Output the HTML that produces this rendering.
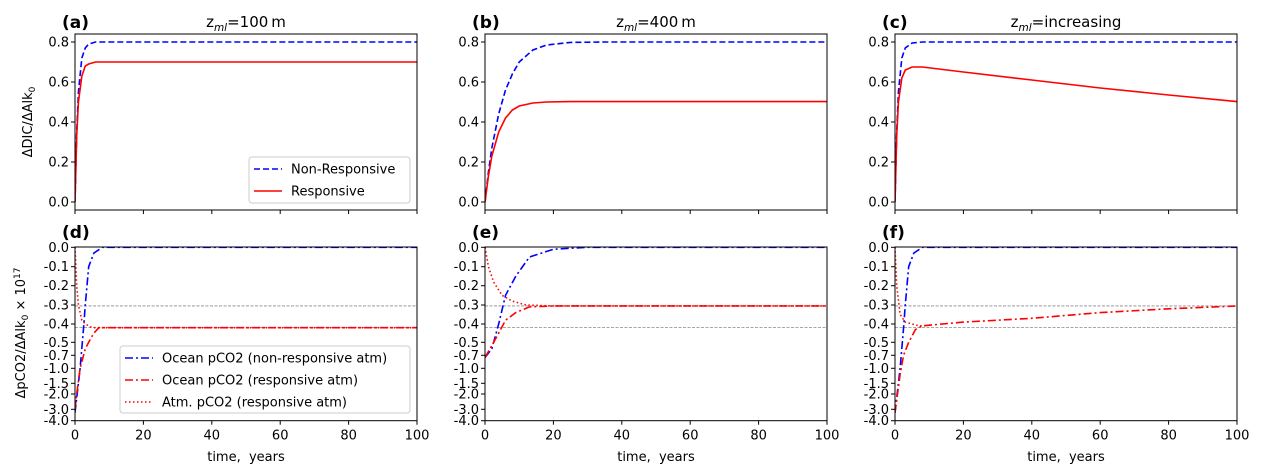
<!DOCTYPE html>
<html><head><meta charset="utf-8"><style>
body{margin:0;background:#fff;}
svg{display:block;font-family:"DejaVu Sans","Liberation Sans",sans-serif;}
text{white-space:pre;}
</style></head><body>
<svg id="fig" width="1262" height="476" viewBox="0 0 1262 476"></svg>
<script>
// ---- data ----
const xTicks = [0, 20, 40, 60, 80, 100];
const topYTicks = [0.0, 0.2, 0.4, 0.6, 0.8];
const botYTicks = [0.0, -0.1, -0.2, -0.3, -0.4, -0.5, -0.7, -1.0, -1.5, -2.0, -3.0, -4.0];
const botYTickLabels = ["0.0","-0.1","-0.2","-0.3","-0.4","-0.5","-0.7","-1.0","-1.5","-2.0","-3.0","-4.0"];
const refLines = [-0.305, -0.42];
const panelTitles = ["100\u2009m", "400\u2009m", "increasing"];

const tA = [0, 0.5, 1, 2, 3, 4, 6, 100];
const aNonResp = [0, 0.35, 0.55, 0.72, 0.77, 0.79, 0.8, 0.8];
const aResp = [0, 0.33, 0.5, 0.63, 0.68, 0.69, 0.7, 0.7];
const tB = [0, 1, 2, 4, 6, 8, 10, 14, 18, 25, 35, 100];
const bNonResp = [0, 0.15, 0.27, 0.44, 0.56, 0.64, 0.7, 0.76, 0.785, 0.798, 0.8, 0.8];
const bResp = [0, 0.13, 0.23, 0.35, 0.42, 0.46, 0.48, 0.495, 0.5, 0.502, 0.502, 0.502];
const tC = [0, 0.5, 1, 2, 3, 5, 8, 20, 40, 60, 80, 100];
const cNonResp = [0, 0.35, 0.55, 0.72, 0.77, 0.795, 0.8, 0.8, 0.8, 0.8, 0.8, 0.8];
const cResp = [0, 0.33, 0.5, 0.62, 0.66, 0.675, 0.675, 0.65, 0.61, 0.57, 0.535, 0.502];

const tD1 = [0, 1.5, 2.6, 3, 4, 5.5, 8, 100];
const dOceanNR = [-3.3, -1.0, -0.4, -0.3, -0.1, -0.03, 0, 0];
const tD2 = [0, 0.5, 1.5, 3, 4, 5.5, 7, 100];
const dOceanR = [-3.0, -2.0, -1.0, -0.6, -0.5, -0.45, -0.42, -0.42];
const tD3 = [0, 0.5, 1, 2, 3, 5, 100];
const dAtm = [0, -0.2, -0.3, -0.38, -0.4, -0.42, -0.42];

const tE1 = [0, 2, 4, 6, 9, 13, 20, 30, 100];
const eOceanNR = [-0.75, -0.6, -0.4, -0.25, -0.15, -0.05, -0.01, 0, 0];
const tE2 = [0, 2, 4, 6, 9, 13, 20, 100];
const eOceanR = [-0.75, -0.55, -0.45, -0.38, -0.34, -0.31, -0.305, -0.305];
const tE3 = [0, 1, 2.5, 5, 8, 12, 20, 100];
const eAtm = [0, -0.1, -0.18, -0.25, -0.28, -0.3, -0.305, -0.305];

const tF1 = [0, 1.5, 2.6, 3, 4, 5.5, 8, 100];
const fOceanNR = [-3.3, -1.0, -0.4, -0.3, -0.1, -0.03, 0, 0];
const tF2 = [0, 1.5, 2.5, 4, 6, 8, 20, 40, 60, 80, 100];
const fOceanR = [-3.3, -1.2, -0.7, -0.5, -0.43, -0.41, -0.39, -0.37, -0.34, -0.32, -0.305];
const tF3 = [0, 0.5, 1.5, 3, 5, 7, 8];
const fAtm = [0, -0.2, -0.35, -0.39, -0.4, -0.41, -0.41];

// ---- layout ----
const NS = "http://www.w3.org/2000/svg";
const svg = document.getElementById("fig");
const panelX = [75, 485, 895];
const PW = 342;
const TOP = {y0: 34, y1: 210};
const BOT = {y0: 247, y1: 420.7};
const botTickPx = [247.3, 266.7, 285.7, 305, 324, 342.3, 355.3, 368.3, 383.3, 394, 409.3, 420.7];

function mk(tag, attrs, parent) {
  const e = document.createElementNS(NS, tag);
  for (const k in attrs) e.setAttribute(k, attrs[k]);
  (parent || svg).appendChild(e);
  return e;
}
function xs(px, v) { return px + v / 100 * PW; }
function ysTop(v) { return 202 - v * 200; }
function ysBot(v) {
  if (v >= 0) return botTickPx[0] - v * 192;
  for (let i = 0; i < botYTicks.length - 1; i++) {
    const a = botYTicks[i], b = botYTicks[i + 1];
    if (v <= a && v >= b) return botTickPx[i] + (a - v) / (a - b) * (botTickPx[i + 1] - botTickPx[i]);
  }
  return botTickPx[botTickPx.length - 1];
}
function drawLine(px, ys, t, v, color, dash, name) {
  let d = "";
  t.forEach((tt, i) => { d += (i ? "L" : "M") + xs(px, tt).toFixed(2) + "," + ys(v[i]).toFixed(2); });
  const p = mk("path", {d: d, fill: "none", stroke: color, "stroke-width": 1.6, "stroke-dasharray": dash});
  
  
}
function axes(px, box, isTop, idx) {
  const g = mk("g", {});
  
  
  xTicks.forEach(v => {
    const x = xs(px, v);
    mk("line", {x1: x, x2: x, y1: box.y1, y2: box.y1 + 4, stroke: "#000", "stroke-width": 1}, g);
    if (!isTop) {
      const t = mk("text", {x: x, y: box.y1 + 19, "font-size": 13, "text-anchor": "middle"}, g);
      t.textContent = v;
      
      
    }
  });
  const yt = isTop ? topYTicks : botYTicks;
  yt.forEach((v, i) => {
    const y = isTop ? ysTop(v) : botTickPx[i];
    mk("line", {x1: px - 4, x2: px, y1: y, y2: y, stroke: "#000", "stroke-width": 1}, g);
    const t = mk("text", {x: px - 6, y: y + 4.5, "font-size": 13, "text-anchor": "end"}, g);
    t.textContent = isTop ? v.toFixed(1) : botYTickLabels[i];
    
    
  });
  if (!isTop) {
    const t = mk("text", {x: px + PW / 2, y: 461, "font-size": 13, "text-anchor": "middle"}, g);
    t.textContent = "time,  years";
    
    
  }
}
function frame(px, box) {
  const r = mk("rect", {x: px, y: box.y0, width: PW, height: box.y1 - box.y0, fill: "none", stroke: "#000", "stroke-width": 1});
  
  
}

const labels = ["(a)", "(b)", "(c)", "(d)", "(e)", "(f)"];
const topData = [[tA, aNonResp, tA, aResp], [tB, bNonResp, tB, bResp], [tC, cNonResp, tC, cResp]];
const botData = [
  [tD1, dOceanNR, tD2, dOceanR, tD3, dAtm],
  [tE1, eOceanNR, tE2, eOceanR, tE3, eAtm],
  [tF1, fOceanNR, tF2, fOceanR, tF3, fAtm]];

panelX.forEach((px, i) => {
  const defs = mk("defs", {});
  const cpT = mk("clipPath", {id: "ct" + i}, defs);
  mk("rect", {x: px, y: TOP.y0, width: PW, height: TOP.y1 - TOP.y0}, cpT);
  const cpB = mk("clipPath", {id: "cb" + i}, defs);
  mk("rect", {x: px, y: BOT.y0 - 2, width: PW, height: BOT.y1 - BOT.y0 + 2}, cpB);

  axes(px, TOP, true, i);
  const td = topData[i];
  drawLine(px, ysTop, td[0], td[1], "#0000ff", "6,3", "non-responsive-line");
  svg.lastChild.setAttribute("clip-path", "url(#ct" + i + ")");
  drawLine(px, ysTop, td[2], td[3], "#ff0000", "none", "responsive-line");
  svg.lastChild.setAttribute("clip-path", "url(#ct" + i + ")");
  frame(px, TOP);

  axes(px, BOT, false, i);
  refLines.forEach(v => {
    const l = mk("line", {x1: px, x2: px + PW, y1: ysBot(v), y2: ysBot(v), stroke: "#888", "stroke-width": 0.8, "stroke-dasharray": "3,1.5"});
    
    
  });
  const bd = botData[i];
  drawLine(px, ysBot, bd[0], bd[1], "#0000ff", "8,3,2,3", "ocean-pco2-nonresponsive-line");
  svg.lastChild.setAttribute("clip-path", "url(#cb" + i + ")");
  drawLine(px, ysBot, bd[2], bd[3], "#ff0000", "8,3,2,3", "ocean-pco2-responsive-line");
  svg.lastChild.setAttribute("clip-path", "url(#cb" + i + ")");
  drawLine(px, ysBot, bd[4], bd[5], "#ff0000", "1.5,2.5", "atm-pco2-line");
  svg.lastChild.setAttribute("clip-path", "url(#cb" + i + ")");
  frame(px, BOT);

  const la = mk("text", {x: px - 13, y: 28, "font-size": 17, "font-weight": "bold"});
  la.textContent = labels[i];
  
  
  const lb = mk("text", {x: px - 13, y: 238, "font-size": 17, "font-weight": "bold"});
  lb.textContent = labels[i + 3];
  
  

  const tt = mk("text", {x: px + PW / 2, y: 27, "font-size": 15, "text-anchor": "middle"});
  tt.innerHTML = 'z<tspan font-size="10.5" font-style="italic" dy="4">ml</tspan><tspan dy="-4">=' + panelTitles[i] + '</tspan>';
  
  
});

const yt1 = mk("text", {x: 0, y: 0, "font-size": 13, "text-anchor": "middle", transform: "translate(32,122) rotate(-90)"});
yt1.innerHTML = '\u0394DIC/\u0394Alk<tspan font-size="9" dy="3">0</tspan>';


const yt2 = mk("text", {x: 0, y: 0, "font-size": 13, "text-anchor": "middle", transform: "translate(25,333) rotate(-90)"});
yt2.innerHTML = '\u0394pCO2/\u0394Alk<tspan font-size="9" dy="3">0</tspan><tspan dy="-3"> \u00d7 10</tspan><tspan font-size="9" dy="-5">17</tspan>';



function legend(x, y, w, h, entries, name) {
  const g = mk("g", {});
  
  
  mk("rect", {x: x, y: y, width: w, height: h, rx: 3, fill: "#fff", "fill-opacity": 0.9, stroke: "#ccc", "stroke-width": 1}, g);
  entries.forEach((e, i) => {
    const cy = y + 12 + i * 22;
    mk("line", {x1: x + 5, x2: x + 33, y1: cy, y2: cy, stroke: e[1], "stroke-width": 1.6, "stroke-dasharray": e[2]}, g);
    const t = mk("text", {x: x + 42, y: cy + 4.5, "font-size": 13}, g);
    t.textContent = e[0];
    
    
  });
}
legend(249, 157, 161, 46, [["Non-Responsive", "#0000ff", "6,3"], ["Responsive", "#ff0000", "none"]], "legend-top");
legend(120, 346, 290, 67, [["Ocean pCO2 (non-responsive atm)", "#0000ff", "8,3,2,3"], ["Ocean pCO2 (responsive atm)", "#ff0000", "8,3,2,3"], ["Atm. pCO2 (responsive atm)", "#ff0000", "1.5,2.5"]], "legend-bottom");
</script>
</body></html>
